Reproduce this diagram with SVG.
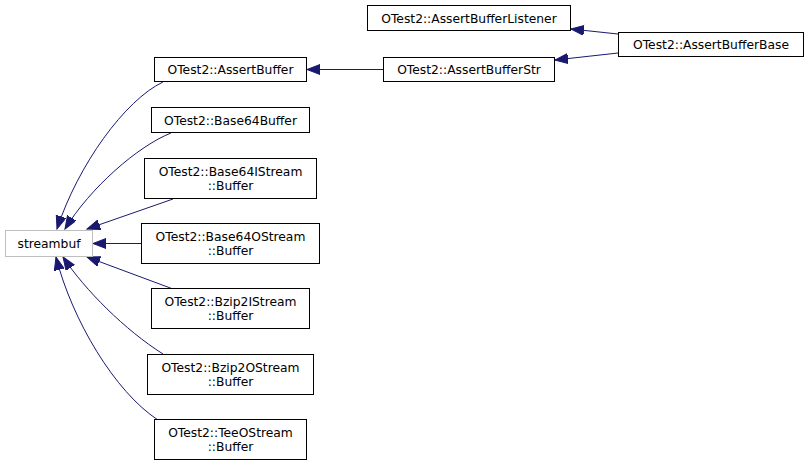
<svg xmlns="http://www.w3.org/2000/svg" width="808" height="466" viewBox="0 0 808 466">
  <style>
    .node rect { fill: #ffffff; stroke: #000000; stroke-width: 1; }
    .node.ext rect { stroke: #bfbfbf; }
    .node text { font-family: "DejaVu Sans", "Liberation Sans", sans-serif; font-size: 12.3px; fill: #000000; text-anchor: middle; }
    .edges path { fill: none; stroke: #191970; stroke-width: 1; marker-end: url(#arrow); }
  </style>
  <defs>
    <marker id="arrow" markerUnits="userSpaceOnUse" markerWidth="14" markerHeight="12" refX="13" refY="5" orient="auto">
      <path d="M0,0 L13,5 L0,10 Z" fill="#191970" stroke="#191970" stroke-width="1"/>
    </marker>
  </defs>
  <rect width="808" height="466" fill="#ffffff"/>

  <!-- inheritance connectors, drawn from derived class to base class -->
  <g id="edges" class="edges">
    <path d="M383,69.5 L307,69.5"/>
    <path d="M618,34 L571,29"/>
    <path d="M618,53 L555,60"/>
    <path d="M163,82 C125,100 78,165 57,229"/>
    <path d="M171,133 C138,146 90,188 65,229"/>
    <path d="M173,199 L87,229"/>
    <path d="M141,243.5 L93,243.5"/>
    <path d="M173,289 L87,257"/>
    <path d="M163,354 C125,330 85,290 63,257"/>
    <path d="M158,420 C115,392 72,320 56,257"/>
  </g>

  <g id="streambuf" class="node ext">
    <rect x="5.5" y="230.5" width="87" height="26"/>
    <text x="49" y="248">streambuf</text>
  </g>

  <g id="AssertBuffer" class="node">
    <rect x="154.5" y="57.5" width="152" height="24"/>
    <text x="230.5" y="74">OTest2::AssertBuffer</text>
  </g>

  <g id="AssertBufferStr" class="node">
    <rect x="383.5" y="57.5" width="171" height="24"/>
    <text x="469" y="74">OTest2::AssertBufferStr</text>
  </g>

  <g id="AssertBufferListener" class="node">
    <rect x="367.5" y="5.5" width="203" height="25"/>
    <text x="469" y="22.5">OTest2::AssertBufferListener</text>
  </g>

  <g id="AssertBufferBase" class="node">
    <rect x="618.5" y="32.5" width="185" height="24"/>
    <text x="711" y="49">OTest2::AssertBufferBase</text>
  </g>

  <g id="Base64Buffer" class="node">
    <rect x="151.5" y="107.5" width="158" height="25"/>
    <text x="230.5" y="124.5">OTest2::Base64Buffer</text>
  </g>

  <g id="Base64IStreamBuffer" class="node">
    <rect x="144.5" y="158.5" width="172" height="40"/>
    <text x="230.5" y="175.5">OTest2::Base64IStream</text>
    <text x="230.5" y="189.5">::Buffer</text>
  </g>

  <g id="Base64OStreamBuffer" class="node">
    <rect x="141.5" y="223.5" width="178" height="40"/>
    <text x="230.5" y="240.5">OTest2::Base64OStream</text>
    <text x="230.5" y="254.5">::Buffer</text>
  </g>

  <g id="Bzip2IStreamBuffer" class="node">
    <rect x="151.5" y="288.5" width="158" height="40"/>
    <text x="230.5" y="305.5">OTest2::Bzip2IStream</text>
    <text x="230.5" y="319.5">::Buffer</text>
  </g>

  <g id="Bzip2OStreamBuffer" class="node">
    <rect x="147.5" y="354.5" width="166" height="40"/>
    <text x="230.5" y="371.5">OTest2::Bzip2OStream</text>
    <text x="230.5" y="385.5">::Buffer</text>
  </g>

  <g id="TeeOStreamBuffer" class="node">
    <rect x="154.5" y="419.5" width="152" height="40"/>
    <text x="230.5" y="436.5">OTest2::TeeOStream</text>
    <text x="230.5" y="450.5">::Buffer</text>
  </g>
</svg>
